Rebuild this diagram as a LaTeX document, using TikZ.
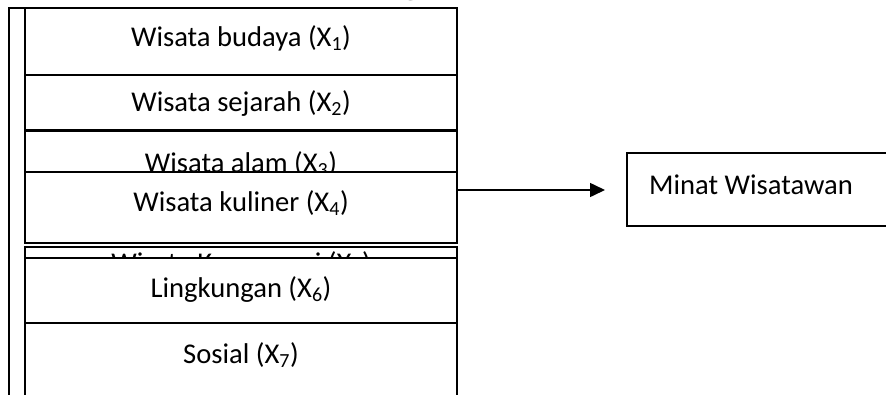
\documentclass[tikz,border=0pt]{standalone}
\usepackage{fontspec}
\setmainfont{Carlito}
\newfontfamily\headfont{Liberation Serif}
\usetikzlibrary{arrows.meta}
\tikzset{
  rule/.style={draw=black, line width=1.6pt},
  panel/.style={rule, fill=white, rectangle, inner sep=0pt, outer sep=0pt,
    minimum width=432pt, anchor=north west},
  boxtext/.style={anchor=base, inner sep=0pt, font=\fontsize{28.6}{32}\selectfont},
  flow/.style={draw=black, line width=1.6pt, -{Triangle[length=15pt,width=14pt]}}
}
\begin{document}
\begin{tikzpicture}[x=1pt,y=-1pt]
\useasboundingbox (0,0) rectangle (886,394);
\clip (0,0) rectangle (886,394);
% descender of the heading above
\node[anchor=base, inner sep=0pt, font=\headfont\bfseries\fontsize{28}{32}\selectfont] (head) at (411,-5.5) {g};
% outer frame
\draw[rule] (9,430) -- (9,8) -- (457,8);
% stacked factor boxes, each drawn over the one before
\node[panel, minimum height=67pt] (b1) at (25,8) {};
\node[boxtext] (t1) at (241,46) {Wisata budaya (X\textsubscript{1})};
\node[panel, minimum height=55pt] (b2) at (25,75) {};
\node[boxtext] (t2) at (241,111) {Wisata sejarah (X\textsubscript{2})};
\node[panel, minimum height=54pt] (b3) at (25,131) {};
\node[boxtext] (t3) at (241,172) {Wisata alam (X\textsubscript{3})};
\node[panel, minimum height=71pt] (b4) at (25,172) {};
\node[boxtext] (t4) at (241,211) {Wisata kuliner (X\textsubscript{4})};
\node[panel, minimum height=55pt] (b5) at (25,247) {};
\node[boxtext] (t5) at (241,272) {Wisata Konservasi (X\textsubscript{5})};
\node[panel, minimum height=66pt] (b6) at (25,258) {};
\node[boxtext] (t6) at (241,297) {Lingkungan (X\textsubscript{6})};
\node[panel, minimum height=110pt] (b7) at (25,323) {};
\node[boxtext] (t7) at (241,363) {Sosial (X\textsubscript{7})};
% outcome box
\node[panel, minimum width=300pt, minimum height=73pt] (goal) at (627,153) {};
\node[boxtext, anchor=base west] (tg) at (649,194) {Minat Wisatawan};
% arrow towards the outcome
\coordinate (tip) at (605,190);
\draw[flow] (b4.east |- tip) -- (tip);
\end{tikzpicture}
\end{document}
